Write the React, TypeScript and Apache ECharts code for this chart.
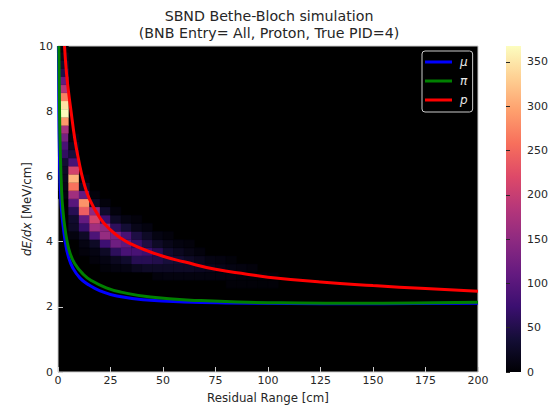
import React, { useEffect, useRef } from "react";
import * as echarts from "echarts";

const FONT = "DejaVu Sans";
const TEXT = "#262626";
const SPINE = "#cccccc";

// 2D histogram: 5 cm wide columns, 0.25 MeV/cm tall rows
const binWidth = 5;
const binHeight = 0.25;
const rowOrigin = 0.0625;
const columnStartRow = [21, 16, 14, 13, 12, 12, 12, 12, 12, 11, 11, 11, 11, 11, 11, 11, 10, 10, 10, 10, 10];
const columnCounts = [
  [8, 15, 20, 25, 35, 65, 85, 125, 170, 290, 365, 345, 270, 180, 110, 50, 30, 15, 5],
  [8, 25, 30, 55, 100, 165, 260, 310, 210, 85, 40, 20, 8],
  [5, 10, 25, 70, 110, 240, 285, 110, 25, 5],
  [5, 10, 25, 90, 165, 210, 150, 25, 5],
  [4, 10, 25, 75, 155, 150, 75, 30, 6],
  [8, 20, 60, 120, 130, 60, 25, 6],
  [10, 30, 85, 105, 85, 35, 10],
  [20, 55, 85, 70, 45, 15, 5],
  [25, 55, 75, 45, 25, 8],
  [6, 25, 50, 55, 25, 10],
  [8, 25, 40, 30, 15, 5],
  [8, 25, 35, 20, 8],
  [8, 25, 25, 12, 5],
  [8, 22, 18, 6],
  [8, 18, 10],
  [8, 14, 8],
  [3, 8, 10, 4],
  [3, 6, 8],
  [3, 5, 5],
  [2, 4],
  [3, 3],
];

// Theory curves: residual range (cm), dE/dx (MeV/cm)
const muonRange = [0.2, 0.4, 0.7, 1, 1.7, 2.5, 3.5, 4.9, 7, 10.5, 15, 20, 28, 44, 60, 80, 110, 140, 170, 200];
const muonDedx = [10, 8, 6.6, 5.8, 4.95, 4.45, 3.98, 3.55, 3.2, 2.88, 2.66, 2.49, 2.33, 2.2, 2.15, 2.12, 2.1, 2.09, 2.1, 2.11];
const pionRange = [0.4, 0.7, 1, 1.75, 2.5, 3.3, 4.3, 5.7, 8, 12, 16, 23, 30, 44, 68, 90, 115, 140, 170, 200];
const pionDedx = [10, 8.2, 7, 5.5, 4.85, 4.42, 4.02, 3.65, 3.32, 3, 2.8, 2.58, 2.45, 2.3, 2.19, 2.14, 2.12, 2.11, 2.12, 2.14];
const protonRange = [3.1, 4, 5, 6, 8, 10, 12, 15, 20, 25, 30, 35, 40, 50, 60, 75, 90, 100, 125, 150, 175, 200];
const protonDedx = [10, 9.2, 8.6, 8.1, 7.15, 6.45, 5.88, 5.3, 4.72, 4.36, 4.1, 3.92, 3.78, 3.55, 3.38, 3.15, 3, 2.91, 2.76, 2.65, 2.56, 2.48];

const xTicks = [0, 25, 50, 75, 100, 125, 150, 175, 200];
const yTicks = [0, 2, 4, 6, 8, 10];
const barTicks = [0, 50, 100, 150, 200, 250, 300, 350];
const barMax = 368;

const magma = ["#000004", "#140e36", "#3b0f70", "#641a80", "#8c2981", "#b5367a", "#de4968", "#f76f5c", "#fe9f6d", "#fecf92", "#fcfdbf"];

const pairs = (xs: number[], ys: number[]) => xs.map((x, i) => [x, ys[i]]);

export default function App() {
  const ref = useRef<HTMLDivElement>(null);
  useEffect(() => {
    document.body.style.margin = "0";
    const chart = echarts.init(ref.current!, undefined, { renderer: "svg" });
    const cells: number[][] = [];
    columnCounts.forEach((counts, c) =>
      counts.forEach((v, r) => cells.push([c, columnStartRow[c] + r, v]))
    );
    const curve = (name: string, xs: number[], ys: number[], color: string) => ({
      name,
      type: "line",
      data: pairs(xs, ys),
      xAxisIndex: 0,
      yAxisIndex: 0,
      showSymbol: false,
      symbol: "none",
      smooth: 0.5,
      clip: true,
      z: 5,
      lineStyle: { color, width: 3 },
      itemStyle: { color },
    });
    chart.setOption({
      animation: false,
      backgroundColor: "#ffffff",
      textStyle: { fontFamily: FONT },
      title: {
        text: "SBND Bethe-Bloch simulation\n(BNB Entry= All, Proton, True PID=4)",
        left: 264,
        top: 2,
        textAlign: "center",
        textStyle: { fontFamily: FONT, fontSize: 14.2, fontWeight: "normal", color: TEXT, lineHeight: 17 },
      },
      graphic: [
        {
          type: "rect",
          shape: { x: 506, y: 46, width: 15, height: 326 },
          silent: true,
          style: {
            fill: new echarts.graphic.LinearGradient(
              0, 1, 0, 0,
              magma.map((color, i) => ({ offset: i / (magma.length - 1), color }))
            ),
          },
        },
      ],
      grid: [
        { left: 58, top: 46, width: 420, height: 326, show: true, backgroundColor: "#000000", borderColor: SPINE, borderWidth: 1, outerBoundsMode: "none" },
        { left: 506, top: 46, width: 15, height: 326, show: false, outerBoundsMode: "none" },
      ],
      xAxis: [
        {
          type: "value", gridIndex: 0, min: 0, max: 200, interval: 25,
          name: "Residual Range [cm]", nameLocation: "middle", nameGap: 20, nameMoveOverlap: false,
          nameTextStyle: { fontFamily: FONT, fontSize: 11.8, color: TEXT },
          axisLine: { show: false },
          axisTick: { show: true, inside: true, length: 5, lineStyle: { color: SPINE }, customValues: xTicks },
          axisLabel: { color: TEXT, fontSize: 11, margin: 3, fontFamily: FONT, customValues: xTicks },
          splitLine: { show: false },
        },
        { type: "value", gridIndex: 1, min: 0, max: 1, show: false },
      ],
      yAxis: [
        {
          type: "value", gridIndex: 0, min: 0, max: 10, interval: 2,
          name: "{i|dE/dx} [MeV/cm]", nameLocation: "middle", nameGap: 25, nameMoveOverlap: false,
          nameTextStyle: {
            fontFamily: FONT, fontSize: 11.8, color: TEXT,
            rich: { i: { fontFamily: FONT, fontSize: 11.8, fontStyle: "italic", color: TEXT } },
          },
          axisLine: { show: false },
          axisTick: { show: true, inside: true, length: 5, lineStyle: { color: SPINE }, customValues: yTicks },
          axisLabel: { color: TEXT, fontSize: 11, margin: 5, fontFamily: FONT, customValues: yTicks },
          splitLine: { show: false },
        },
        {
          type: "value", gridIndex: 1, min: 0, max: barMax, position: "right",
          axisLine: { show: false },
          axisTick: { show: true, length: 4, lineStyle: { color: TEXT }, customValues: barTicks },
          axisLabel: { color: TEXT, fontSize: 11, margin: 6, fontFamily: FONT, customValues: barTicks },
          splitLine: { show: false },
        },
      ],
      visualMap: {
        type: "continuous",
        seriesIndex: 0,
        dimension: 2,
        min: 0,
        max: barMax,
        show: false,
        inRange: { color: magma },
      },
      legend: {
        orient: "vertical",
        left: 422,
        top: 51,
        padding: [4, 5, 5, 3],
        itemWidth: 27,
        itemHeight: 3,
        itemGap: 5,
        backgroundColor: "rgba(0,0,0,0.8)",
        borderColor: SPINE,
        borderWidth: 1,
        borderRadius: 3,
        data: [
          { name: "μ", icon: "rect" },
          { name: "π", icon: "rect" },
          { name: "p", icon: "rect" },
        ],
        textStyle: { color: "#e8e8e8", fontStyle: "italic", fontFamily: FONT, fontSize: 12, lineHeight: 14, padding: [0, 0, 0, 3] },
      },
      series: [
        {
          type: "custom",
          xAxisIndex: 0,
          yAxisIndex: 0,
          data: cells,
          encode: { x: 0, y: 1 },
          clip: true,
          silent: true,
          z: 1,
          renderItem: (_: unknown, api: any) => {
            const c = api.value(0);
            const r = api.value(1);
            const a = api.coord([c * binWidth, rowOrigin + (r + 1) * binHeight]);
            const b = api.coord([(c + 1) * binWidth, rowOrigin + r * binHeight]);
            return {
              type: "rect",
              shape: { x: a[0], y: a[1], width: b[0] - a[0], height: b[1] - a[1] },
              style: { fill: api.visual("color"), stroke: api.visual("color"), lineWidth: 0.3 },
            };
          },
        },
        curve("μ", muonRange, muonDedx, "#0000ff"),
        curve("π", pionRange, pionDedx, "#008000"),
        curve("p", protonRange, protonDedx, "#ff0000"),
      ],
    });
    return () => chart.dispose();
  }, []);
  return <div ref={ref} style={{ width: 553, height: 406 }} />;
}
